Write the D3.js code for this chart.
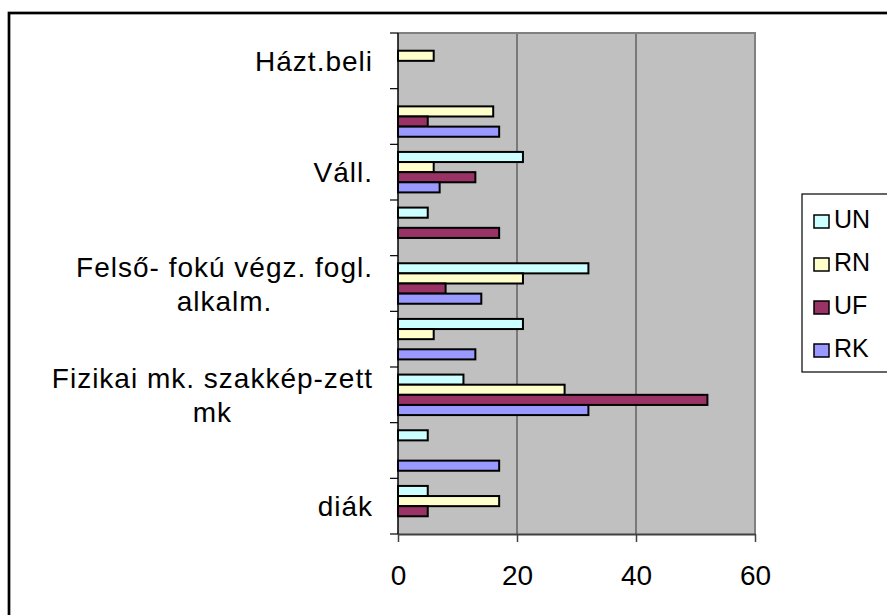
<!DOCTYPE html>
<html>
<head>
<meta charset="utf-8">
<script src="https://cdn.jsdelivr.net/npm/d3@7"></script>
<style>
  body { margin: 0; background: #fff; }
  text { font-family: "Liberation Sans", Arial, sans-serif; fill: #000; }
</style>
</head>
<body>
<script>
// ---- data (categories listed top to bottom) ----
const categories = ["Házt.beli", "", "Váll.", "", "Felső- fokú végz. fogl. alkalm.", "", "Fizikai mk. szakkép-zett mk", "", "diák"];
const seriesNames = ["UN", "RN", "UF", "RK"];
const UN = [0, 0, 21, 5, 32, 21, 11, 5, 5];
const RN = [6, 16, 6, 0, 21, 6, 28, 0, 17];
const UF = [0, 5, 13, 17, 8, 0, 52, 0, 5];
const RK = [0, 17, 7, 0, 14, 13, 32, 17, 0];
const xTicks = [0, 20, 40, 60];
const colors = ["#CCFFFF", "#FFFFCC", "#993366", "#9999FF"];
const seriesValues = [UN, RN, UF, RK];

const W = 887, H = 615;
const plot = { left: 398, top: 33, right: 755, bottom: 534 };

const svg = d3.select("body").append("svg").attr("width", W).attr("height", H);

// outer chart border (extends past the window on right and bottom)
svg.append("rect").attr("x", 9).attr("y", 13).attr("width", 1000).attr("height", 800)
  .attr("fill", "#fff").attr("stroke", "#000").attr("stroke-width", 2.7);

const x = d3.scaleLinear().domain([0, 60]).range([plot.left, plot.right]);
const y0 = d3.scaleBand().domain(d3.range(categories.length)).range([plot.top, plot.bottom]).padding(0);
const bw = y0.bandwidth();
const off = bw * 0.75 / 5.5;
const y1 = d3.scaleBand().domain(seriesNames).range([off, bw - off]).padding(0);

// plot area
svg.append("rect").attr("x", plot.left).attr("y", plot.top)
  .attr("width", plot.right - plot.left).attr("height", plot.bottom - plot.top)
  .attr("fill", "#C0C0C0");

// gridlines
svg.append("g").selectAll("line").data(xTicks.filter(d => d > 0 && d < 60)).join("line")
  .attr("x1", d => x(d)).attr("x2", d => x(d))
  .attr("y1", plot.top).attr("y2", plot.bottom)
  .attr("stroke", "#333").attr("stroke-width", 1);

// plot border (top & right)
svg.append("path")
  .attr("d", `M${plot.left},${plot.top}H${plot.right}V${plot.bottom}`)
  .attr("fill", "none").attr("stroke", "#808080").attr("stroke-width", 2);

// bars
const rows = [];
categories.forEach((c, i) => {
  seriesNames.forEach((s, j) => {
    const v = seriesValues[j][i];
    if (v > 0) rows.push({ i, s, j, v });
  });
});
svg.append("g").selectAll("rect").data(rows).join("rect")
  .attr("x", x(0))
  .attr("y", d => y0(d.i) + y1(d.s))
  .attr("width", d => x(d.v) - x(0))
  .attr("height", y1.bandwidth())
  .attr("fill", d => colors[d.j])
  .attr("stroke", "#000").attr("stroke-width", 2);

// x axis
const xAxis = svg.append("g").attr("transform", `translate(0,${plot.bottom})`)
  .call(d3.axisBottom(x).tickValues(xTicks).tickSize(8).tickSizeOuter(0).tickPadding(23));
xAxis.select(".domain").attr("stroke", "#404040").attr("stroke-width", 2);
xAxis.selectAll(".tick line").attr("stroke", "#404040").attr("stroke-width", 1.5);
xAxis.selectAll(".tick text").attr("font-size", 28).attr("font-family", "Liberation Sans, Arial, sans-serif").attr("fill", "#000");

// y axis line and ticks at band boundaries
const yb = d3.range(categories.length + 1).map(k => plot.top + k * bw);
svg.append("line").attr("x1", plot.left).attr("x2", plot.left)
  .attr("y1", plot.top).attr("y2", plot.bottom).attr("stroke", "#000").attr("stroke-width", 1.5);
svg.append("g").selectAll("line").data(yb).join("line")
  .attr("x1", plot.left - 8).attr("x2", plot.left)
  .attr("y1", d => d).attr("y2", d => d)
  .attr("stroke", "#000").attr("stroke-width", 1.2);

// category labels (wrapped, centered lines, right-aligned block)
const labelRight = 373, maxW = 350, fs = 28, lh = 34;
const measure = svg.append("text").attr("font-size", fs).attr("letter-spacing", 1).attr("visibility", "hidden");
function tw(s) { measure.text(s); return measure.node().getComputedTextLength(); }
categories.forEach((c, i) => {
  if (!c) return;
  const words = c.split(" ");
  const lines = [];
  let cur = "";
  words.forEach(w => {
    const t = cur ? cur + " " + w : w;
    if (tw(t) > maxW && cur) { lines.push(cur); cur = w; } else cur = t;
  });
  if (cur) lines.push(cur);
  const widest = d3.max(lines, tw);
  const cx = labelRight - widest / 2;
  const cy = y0(i) + bw / 2;
  const n = lines.length;
  lines.forEach((ln, k) => {
    svg.append("text").attr("x", cx).attr("y", cy + 10 + (k - (n - 1) / 2) * lh)
      .attr("text-anchor", "middle").attr("font-size", fs).attr("letter-spacing", 1)
      .text(ln);
  });
});
measure.remove();

// legend
const lg = svg.append("g");
lg.append("rect").attr("x", 802).attr("y", 194).attr("width", 120).attr("height", 178)
  .attr("fill", "#fff").attr("stroke", "#000").attr("stroke-width", 1.2);
seriesNames.forEach((s, j) => {
  const cy = 219 + j * 43;
  lg.append("rect").attr("x", 814).attr("y", cy - 4).attr("width", 15).attr("height", 13)
    .attr("fill", colors[j]).attr("stroke", "#000").attr("stroke-width", 1.5);
  lg.append("text").attr("x", 834).attr("y", cy + 9).attr("font-size", 25).text(s);
});
</script>
</body>
</html>
